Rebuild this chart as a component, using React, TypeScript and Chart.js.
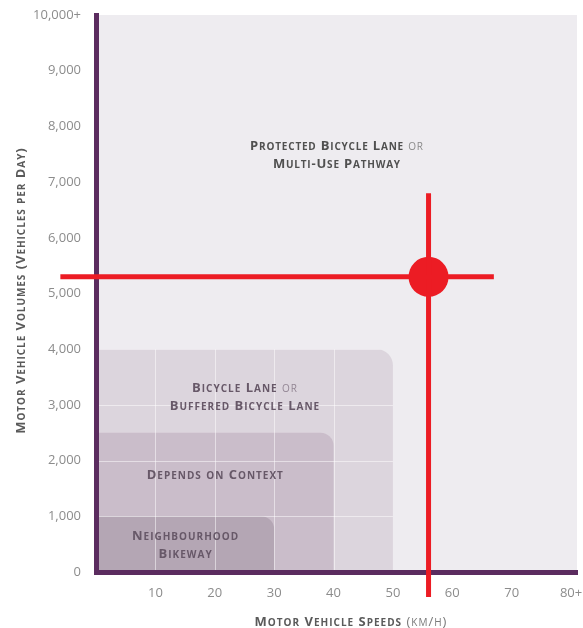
import { useEffect, useRef } from 'react';
import { Chart, registerables } from 'chart.js';

Chart.register(...registerables);

// ---------- data ----------
const speedTicks = [0, 10, 20, 30, 40, 50, 60, 70, 80];
const speedTickLabels = ['', '10', '20', '30', '40', '50', '60', '70', '80+'];
const volumeTickLabels = ['0', '1,000', '2,000', '3,000', '4,000', '5,000', '6,000', '7,000', '8,000', '9,000', '10,000+'];

// zones: protected (whole area), bicycle lane, depends on context, neighbourhood bikeway
const zoneLabels = [
  'Protected Bicycle Lane or\nMulti-Use Pathway',
  'Bicycle Lane or\nBuffered Bicycle Lane',
  'Depends on Context',
  'Neighbourhood\nBikeway',
];
const zoneMaxSpeed = [81, 50, 40, 30];
const zoneMaxVolume = [10000, 4000, 2500, 1000];

// site crosshair
const siteSpeed = 56;
const siteVolume = 5300;
const crossSpeedRange = [-6, 67];
const crossVolumeRange = [6800, -450];

const xTitle = 'Motor Vehicle Speeds (km/h)';
const yTitle = 'Motor Vehicle Volumes (Vehicles per Day)';

// ---------- styles ----------
const FAMILY = "'Open Sans', 'DejaVu Sans', sans-serif";
const RED = '#ec1c24';
const AXIS = '#5b2c5f';
const ZONE_COLORS = ['#eeecf0', '#dcd5dd', '#cabdca', '#b4a6b4'];
const LIGHT_WORDS = ['or', '(km/h)'];

type CapsOpts = {
  big: number;
  small: number;
  spacing: number;
  color: string;
  lightColor: string;
};

function drawCaps(ctx: CanvasRenderingContext2D, line: string, cx: number, cy: number, o: CapsOpts) {
  const runs: { ch: string; size: number; bold: boolean; color: string; w: number }[] = [];
  line.split(' ').forEach((word, wi) => {
    const light = LIGHT_WORDS.includes(word);
    if (wi > 0) runs.push({ ch: ' ', size: o.big, bold: true, color: o.color, w: 0 });
    for (const ch of word) {
      const lower = ch !== ch.toUpperCase();
      runs.push({
        ch: ch.toUpperCase(),
        size: lower ? o.small : o.big,
        bold: !light,
        color: light ? o.lightColor : o.color,
        w: 0,
      });
    }
  });
  let total = 0;
  for (const r of runs) {
    ctx.font = `${r.bold ? 'bold' : 'normal'} ${r.size}px ${FAMILY}`;
    r.w = ctx.measureText(r.ch).width + o.spacing;
    total += r.w;
  }
  total -= o.spacing;
  let x = cx - total / 2;
  const base = cy + o.big * 0.36;
  ctx.textAlign = 'left';
  ctx.textBaseline = 'alphabetic';
  for (const r of runs) {
    ctx.font = `${r.bold ? 'bold' : 'normal'} ${r.size}px ${FAMILY}`;
    ctx.fillStyle = r.color;
    ctx.fillText(r.ch, x, base);
    x += r.w;
  }
}

const zonePlugin = {
  id: 'zones',
  beforeDraw(chart: any) {
    const { ctx, chartArea: a, scales } = chart;
    const xs = scales.x;
    const ys = scales.y;
    ctx.save();
    // protected (background)
    ctx.fillStyle = ZONE_COLORS[0];
    ctx.fillRect(a.left, a.top, a.right - a.left, a.bottom - a.top);
    const radii = [0, 16, 13, 13];
    for (let i = 1; i < zoneMaxSpeed.length; i++) {
      const px = xs.getPixelForValue(zoneMaxSpeed[i]);
      const py = ys.getPixelForValue(zoneMaxVolume[i]);
      ctx.beginPath();
      ctx.roundRect(a.left, py, px - a.left, a.bottom - py, [0, radii[i], 0, 0]);
      ctx.fillStyle = ZONE_COLORS[i];
      ctx.fill();
    }
    // grid lines, visible only inside the shaded zones
    const bx = xs.getPixelForValue(zoneMaxSpeed[1]);
    const by = ys.getPixelForValue(zoneMaxVolume[1]);
    ctx.beginPath();
    ctx.roundRect(a.left, by, bx - a.left, a.bottom - by, [0, radii[1], 0, 0]);
    ctx.clip();
    ctx.strokeStyle = 'rgba(255,255,255,0.5)';
    ctx.lineWidth = 1;
    ctx.beginPath();
    for (const t of xs.ticks) {
      const p = Math.round(xs.getPixelForValue(t.value)) + 0.5;
      ctx.moveTo(p, a.top);
      ctx.lineTo(p, a.bottom);
    }
    for (const t of ys.ticks) {
      const p = Math.round(ys.getPixelForValue(t.value)) + 0.5;
      ctx.moveTo(a.left, p);
      ctx.lineTo(a.right, p);
    }
    ctx.stroke();
    ctx.restore();

    // zone labels
    ctx.save();
    for (let i = 0; i < zoneLabels.length; i++) {
      const lines = zoneLabels[i].split('\n');
      const cxv = zoneMaxSpeed[i] / 2;
      const next = i === 0 ? 5000 : i + 1 < zoneMaxVolume.length ? zoneMaxVolume[i + 1] : 0;
      const top = zoneMaxVolume[i];
      const cyv = i === 1 ? (top + next) / 2 - 100 : (top + next) / 2;
      const cx = xs.getPixelForValue(cxv);
      const cy = ys.getPixelForValue(cyv);
      const lh = 18.5;
      lines.forEach((ln, li) => {
        const y = cy + (li - (lines.length - 1) / 2) * lh;
        drawCaps(ctx, ln, cx, y, {
          big: 13,
          small: 10,
          spacing: i === 0 ? 0.8 : 1,
          color: i === 0 ? '#505050' : '#675868',
          lightColor: i === 0 ? '#8a8a8a' : '#938694',
        });
      });
    }
    ctx.restore();
  },
  afterDraw(chart: any) {
    const { ctx, chartArea: a } = chart;
    ctx.save();
    drawCaps(ctx, xTitle, (a.left + a.right) / 2 + 14, 621, {
      big: 13,
      small: 10,
      spacing: 1,
      color: '#5a5a5a',
      lightColor: '#7a7a7a',
    });
    ctx.translate(20, 291);
    ctx.rotate(-Math.PI / 2);
    drawCaps(ctx, yTitle, 0, 0, {
      big: 13,
      small: 10,
      spacing: 0.95,
      color: '#5a5a5a',
      lightColor: '#7a7a7a',
    });
    ctx.restore();
  },
};

export default function App() {
  const ref = useRef<HTMLCanvasElement | null>(null);
  useEffect(() => {
    document.body.style.margin = '0';
    const canvas = ref.current;
    if (!canvas) return;
    const lineDs = (data: { x: number; y: number }[]) => ({
      data,
      showLine: true,
      borderColor: RED,
      borderWidth: 5,
      pointRadius: 0,
      borderCapStyle: 'butt' as const,
      clip: false as const,
    });
    const chart = new Chart(canvas, {
      type: 'scatter',
      data: {
        datasets: [
          lineDs(crossSpeedRange.map((s) => ({ x: s, y: siteVolume }))),
          lineDs(crossVolumeRange.map((v) => ({ x: siteSpeed, y: v }))),
          {
            data: [{ x: siteSpeed, y: siteVolume }],
            pointRadius: 20,
            pointBackgroundColor: RED,
            pointBorderWidth: 0,
            clip: false as const,
          } as any,
        ],
      },
      options: {
        responsive: false,
        animation: false,
        events: [],
        layout: { autoPadding: false, padding: { top: 15, right: 6, left: 0, bottom: 0 } },
        plugins: { legend: { display: false }, tooltip: { enabled: false } },
        scales: {
          x: {
            type: 'linear',
            min: 0,
            max: 81,
            afterBuildTicks: (s: any) => {
              s.ticks = speedTicks.map((v) => ({ value: v }));
            },
            afterFit: (s: any) => {
              s.height = 56;
              s.paddingRight = 0;
              s.paddingLeft = 0;
            },
            ticks: {
              callback: (_v: any, i: number) => speedTickLabels[i],
              color: '#8c8c8c',
              font: { family: FAMILY, size: 13 },
              padding: 13,
              maxRotation: 0,
              autoSkip: false,
            },
            grid: { display: false, drawTicks: false },
            border: { color: AXIS, width: 5 },
          },
          y: {
            type: 'linear',
            min: 0,
            max: 10000,
            afterFit: (s: any) => {
              s.width = 96;
              s.paddingTop = 0;
              s.paddingBottom = 0;
            },
            ticks: {
              stepSize: 1000,
              callback: (_v: any, i: number) => volumeTickLabels[i],
              color: '#8c8c8c',
              font: { family: FAMILY, size: 13 },
              padding: 15,
              autoSkip: false,
            },
            grid: { display: false, drawTicks: false },
            border: { color: AXIS, width: 5 },
          },
        },
      },
      plugins: [zonePlugin],
    });
    return () => chart.destroy();
  }, []);
  return (
    <div style={{ width: 583, height: 628 }}>
      <canvas ref={ref} width={583} height={628} style={{ display: 'block', width: 583, height: 628 }} />
    </div>
  );
}
